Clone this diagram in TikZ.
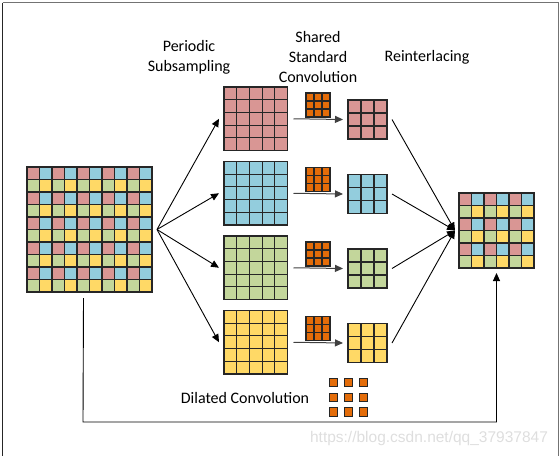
\documentclass[tikz,border=0pt]{standalone}
\usepackage{fontspec}
\setmainfont{Carlito}
\newfontfamily\wmfont{Liberation Sans}
\usetikzlibrary{arrows.meta}
\definecolor{c0}{HTML}{D99694}
\definecolor{c1}{HTML}{93CDDD}
\definecolor{c2}{HTML}{C3D69B}
\definecolor{c3}{HTML}{FFD966}
\definecolor{korange}{HTML}{E36C09}
\definecolor{gline}{HTML}{262626}
\tikzset{
  cell/.style={draw=gline,line width=1.1pt},
  gridbox/.style={draw=gline,line width=1.3pt,inner sep=0pt,outer sep=0pt,anchor=north west},
  lbl/.style={align=center,font=\fontsize{16}{20}\selectfont,inner sep=0pt},
  arr/.style={line width=0.9pt,draw=black,-{Triangle[length=8pt,width=7pt]}},
  convarr/.style={line width=1pt,draw=black!75,-{Triangle[length=8pt,width=7pt]}},
  dot/.style={draw=gline,line width=0.9pt,fill=korange,minimum size=8.5pt,inner sep=0pt}
}
% #1 x0, #2 y0, #3 n-1, #4 cell size
\newcommand\patgrid[4]{%
  \foreach \i in {0,...,#3}{\foreach \j in {0,...,#3}{%
    \pgfmathtruncatemacro\kk{mod(\j,2)*2+mod(\i,2)}%
    \draw[cell,fill=c\kk] (#1+\i*#4,#2+\j*#4) rectangle ++(#4,#4);}}}
% #1 x0, #2 y0, #3 n-1, #4 cell size, #5 colour
\newcommand\solgrid[5]{%
  \foreach \i in {0,...,#3}{\foreach \j in {0,...,#3}{%
    \draw[cell,fill=#5] (#1+\i*#4,#2+\j*#4) rectangle ++(#4,#4);}}}
\begin{document}
\begin{tikzpicture}[x=1pt,y=-1pt]
\useasboundingbox (0,0) rectangle (560,456);
% frame
\draw[line width=1.2pt,black!55] (2.5,2.5) -- (558.5,2.5) -- (558.5,456);
\draw[line width=1.4pt,black!85] (2.5,2.5) -- (2.5,456);
% input
\patgrid{27}{167}{9}{12.5}
\node[gridbox,minimum width=125pt,minimum height=125pt] (in) at (27,167) {};
% subsampled grids, kernels, outputs
\foreach \n/\y/\c in {1/87/c0,2/161.5/c1,3/236/c2,4/310.5/c3}{
  \solgrid{224}{\y}{4}{12.7}{\c}
  \node[gridbox,minimum width=63.5pt,minimum height=63.5pt] (sub\n) at (224,\y) {};
  \solgrid{306}{\y+6}{2}{8}{korange}
  \node[gridbox,minimum width=24pt,minimum height=24pt] (ker\n) at (306,\y+6) {};
  \solgrid{348}{\y+13}{2}{13}{\c}
  \node[gridbox,minimum width=39pt,minimum height=39pt] (out\n) at (348,\y+13) {};
}
% result
\patgrid{459}{193}{5}{12.5}
\node[gridbox,minimum width=75pt,minimum height=75pt] (res) at (459,193) {};
% connectors
\coordinate (src) at ([xshift=5pt]in.east);
\foreach \n in {1,...,4}{
  \draw[arr] (src) -- ([xshift=-5pt]sub\n.west);
  \draw[convarr] ([xshift=6pt]sub\n.east) -- ([xshift=-5pt]out\n.west);
  \draw[arr] ([xshift=5pt]out\n.east) -- ([xshift=-4pt]res.west);
}
\coordinate (skipA) at ([xshift=-6pt,yshift=-6pt]in.south);
\coordinate (skipB) at (83,422);
\draw[arr] (skipA) -- (skipB) -| ([yshift=-5pt]res.south);
% labels
\node[lbl] (l1) at (189,57) {Periodic\\Subsampling};
\node[lbl] (l2) at (318,57) {Shared\\Standard\\Convolution};
\node[lbl] (l3) at (427,57) {Reinterlacing};
\node[lbl] (l4) at (245,398) {Dilated Convolution};
% dilated kernel
\foreach \a/\xx in {1/333.5,2/348.5,3/363.5}{
  \foreach \b/\yy in {1/382.5,2/397.5,3/412}{
    \node[dot] (d\a\b) at (\xx,\yy) {};
  }}
% watermark
\node[inner sep=0pt,font=\wmfont\fontsize{15.5}{18}\selectfont,text=black!13] (wm) at (429,438) {https://blog.csdn.net/qq\_37937847};
\end{tikzpicture}
\end{document}
